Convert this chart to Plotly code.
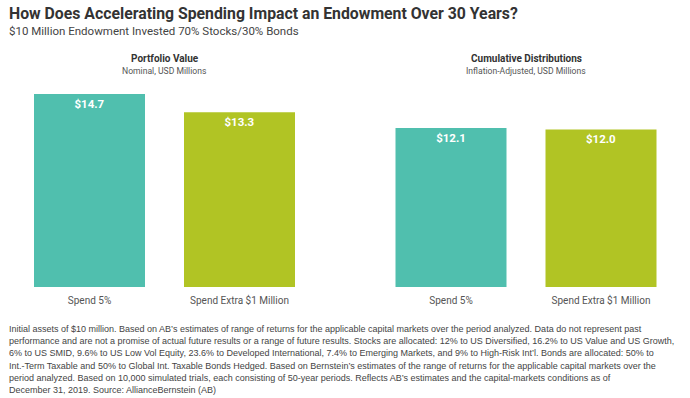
import plotly.graph_objects as go

categories = ["Spend 5%", "Spend Extra $1 Million"]
portfolio_value = [14.7, 13.3]
cumulative_dist = [12.1, 12.0]
bar_colors = ["#50bfae", "#b1c424"]

title = "How Does Accelerating Spending Impact an Endowment Over 30 Years?"
subtitle = "$10 Million Endowment Invested 70% Stocks/30% Bonds"
panel_titles = ["Portfolio Value", "Cumulative Distributions"]
panel_subtitles = ["Nominal, USD Millions", "Inflation-Adjusted, USD Millions"]
footnote_lines = [
    "Initial assets of $10 million. Based on AB\u2019s estimates of range of returns for the applicable capital markets over the period analyzed. Data do not represent past",
    "performance and are not a promise of actual future results or a range of future results. Stocks are allocated: 12% to US Diversified, 16.2% to US Value and US Growth,",
    "6% to US SMID, 9.6% to US Low Vol Equity, 23.6% to Developed International, 7.4% to Emerging Markets, and 9% to High-Risk Int\u2019l. Bonds are allocated: 50% to",
    "Int.-Term Taxable and 50% to Global Int. Taxable Bonds Hedged. Based on Bernstein\u2019s estimates of the range of returns for the applicable capital markets over the",
    "period analyzed. Based on 10,000 simulated trials, each consisting of 50-year periods. Reflects AB\u2019s estimates and the capital-markets conditions as of",
    "December 31, 2019. Source: AllianceBernstein (AB)",
]

W, H = 690, 398
T, B = 90, 111
PH = H - T - B
FONT = "Roboto, Open Sans, sans-serif"
FOOT = "Liberation Sans, Arial, sans-serif"


def py(pix):
    return (H - B - pix) / PH


fig = go.Figure()
for i, vals in enumerate([portfolio_value, cumulative_dist]):
    fig.add_trace(go.Bar(
        x=categories, y=vals,
        xaxis="x" if i == 0 else "x2", yaxis="y" if i == 0 else "y2",
        marker=dict(color=bar_colors, line=dict(width=0)),
        width=0.74,
        text=[f"${v:.1f}" for v in vals],
        textposition="inside", insidetextanchor="end",
        textfont=dict(family=FONT, size=11.5, color="white", weight="bold"),
        hoverinfo="skip", showlegend=False, cliponaxis=False,
    ))

axis_common = dict(showgrid=False, zeroline=False, showline=False, ticks="",
                   ticklabelstandoff=6,
                   tickfont=dict(family=FONT, size=10, color="#555555"))
yaxis_common = dict(range=[0, 15], visible=False, fixedrange=True)

dom1 = [14.5 / W, 314.5 / W]
dom2 = [376 / W, 676 / W]

annotations = [
    dict(text=f"<b>{title}</b>", x=7 / W, y=py(14), xref="paper", yref="paper",
         xanchor="left", yanchor="middle", showarrow=False,
         font=dict(family=FONT, size=15.8, color="#333333")),
    dict(text=subtitle, x=7 / W, y=py(30.5), xref="paper", yref="paper",
         xanchor="left", yanchor="middle", showarrow=False,
         font=dict(family=FONT, size=11.5, color="#444444")),
]
for dom, t, s in zip([dom1, dom2], panel_titles, panel_subtitles):
    cx = (dom[0] + dom[1]) / 2
    annotations.append(dict(text=f"<b>{t}</b>", x=cx, y=py(58.5), xref="paper", yref="paper",
                            xanchor="center", yanchor="middle", showarrow=False,
                            font=dict(family=FONT, size=10, color="#333333")))
    annotations.append(dict(text=s, x=cx, y=py(71), xref="paper", yref="paper",
                            xanchor="center", yanchor="middle", showarrow=False,
                            font=dict(family=FONT, size=8.6, color="#555555")))
for k, line in enumerate(footnote_lines):
    annotations.append(dict(text=line, x=7 / W, y=py(329 + k * 12.2), xref="paper", yref="paper",
                            xanchor="left", yanchor="middle", showarrow=False,
                            font=dict(family=FOOT, size=9.0, color="#444444")))

fig.update_layout(
    width=W, height=H,
    margin=dict(l=0, r=0, t=T, b=B),
    paper_bgcolor="white", plot_bgcolor="white",
    xaxis=dict(domain=dom1, **axis_common),
    xaxis2=dict(domain=dom2, anchor="y2", **axis_common),
    yaxis=dict(domain=[0, 1], **yaxis_common),
    yaxis2=dict(domain=[0, 1], anchor="x2", **yaxis_common),
    annotations=annotations,
    bargap=0.26,
)

fig.write_html("out.html", config={"displayModeBar": False},
               post_script="document.body.style.margin='0';")
